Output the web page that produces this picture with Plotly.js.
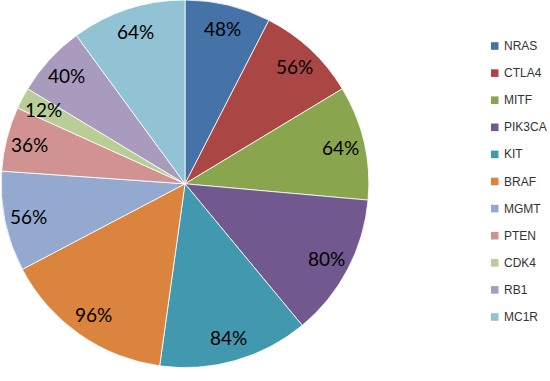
<!DOCTYPE html>
<html>
<head>
<meta charset="utf-8">
<script src="https://cdn.plot.ly/plotly-3.0.1.min.js"></script>
<style>html,body{margin:0;padding:0;background:#fff;}#chart{width:550px;height:381px;}</style>
</head>
<body>
<div id="chart"></div>
<script>
const genes = ["NRAS","CTLA4","MITF","PIK3CA","KIT","BRAF","MGMT","PTEN","CDK4","RB1","MC1R"];
const frequencies = [48,56,64,80,84,96,56,36,12,40,64];
const sliceColors = ["#4572A7","#AA4643","#89A54E","#71588F","#4198AF","#DB843D","#93A9CF","#D19392","#B9CD96","#A99BBD","#92C3D5"];

const W = 550, H = 381;
const px = x => x / W;
const py = y => 1 - y / H;

// pie geometry (pixels)
const cx = 185, cy = 183.8, R = 183.8, labelR = 160;

const shapes = [];
const annotations = [];

// value labels, placed on each slice's bisector (derived from the data)
const total = frequencies.reduce((a, b) => a + b, 0);
let cum = 0;
frequencies.forEach((v) => {
  const mid = (cum + v / 2) / total * 2 * Math.PI;
  cum += v;
  annotations.push({xref: "paper", yref: "paper",
    x: px(cx + labelR * Math.sin(mid)), y: py(cy - labelR * Math.cos(mid)),
    xanchor: "center", yanchor: "middle", text: v + "%", showarrow: false,
    font: {family: "Lato, sans-serif", size: 19, color: "#000"}});
});

// legend
const legTop = 46, legStep = 27.1;
genes.forEach((g, i) => {
  const ly = legTop + i * legStep;
  shapes.push({type: "rect", xref: "paper", yref: "paper",
    x0: px(491), x1: px(498.5), y0: py(ly - 3.8), y1: py(ly + 3.8),
    fillcolor: sliceColors[i], line: {width: 0}});
  annotations.push({xref: "paper", yref: "paper", x: px(502), y: py(ly),
    xanchor: "left", yanchor: "middle", text: g, showarrow: false,
    font: {family: "Liberation Sans, Arial, sans-serif", size: 12, color: "#333"}});
});

const mainPie = {
  type: "pie",
  labels: genes,
  values: frequencies,
  textinfo: "none",
  sort: false,
  direction: "clockwise",
  rotation: 0,
  marker: {colors: sliceColors, line: {color: "#ffffff", width: 0.8}},
  domain: {x: [px(cx - R), px(cx + R)], y: [py(cy + R), py(cy - R)]},
  hoverinfo: "label+value",
  showlegend: false
};

Plotly.newPlot("chart", [mainPie], {
  width: W, height: H,
  margin: {l: 0, r: 0, t: 0, b: 0},
  paper_bgcolor: "#fff",
  showlegend: false,
  shapes: shapes,
  annotations: annotations
}, {displayModeBar: false, staticPlot: true});
</script>
</body>
</html>
